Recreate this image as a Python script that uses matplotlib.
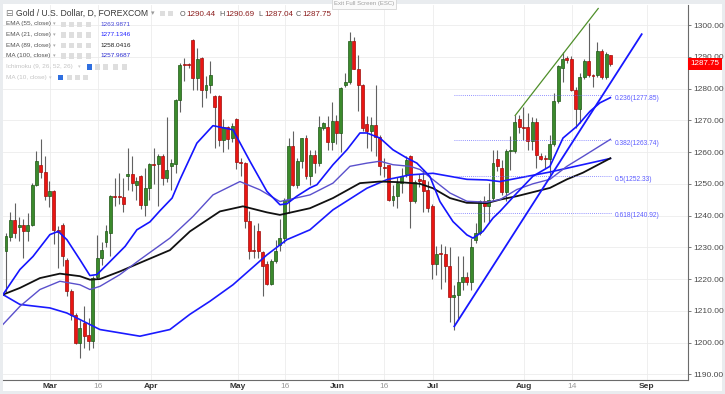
import numpy as np
import matplotlib.pyplot as plt
import matplotlib.transforms as mtransforms
from matplotlib.patches import Rectangle

# Daily gold candles (one entry per trading day)
opens = [1228.7, 1233.2, 1238.7, 1236.4, 1237.1, 1235.0, 1237.1, 1249.7, 1256.0, 1253.6,
         1246.1, 1247.6, 1235.6, 1237.1, 1226.1, 1216.1, 1208.8, 1199.9, 1206.2, 1202.5,
         1200.4, 1220.5, 1226.6, 1231.8, 1234.5, 1246.2, 1246.2, 1245.7, 1252.4, 1253.1,
         1249.5, 1252.3, 1243.4, 1248.6, 1256.3, 1256.1, 1258.8, 1251.8, 1255.5, 1256.1,
         1276.5, 1287.7, 1287.5, 1295.2, 1283.3, 1289.6, 1279.6, 1281.2, 1277.7, 1277.7,
         1263.9, 1267.9, 1264.3, 1270.5, 1257.0, 1256.6, 1238.3, 1229.2, 1235.2, 1228.4,
         1224.7, 1218.4, 1225.7, 1230.8, 1232.9, 1244.5, 1261.8, 1249.7, 1257.1, 1264.4,
         1252.3, 1259.1, 1256.5, 1267.5, 1268.0, 1263.3, 1269.9, 1265.9, 1281.2, 1282.0,
         1295.1, 1286.2, 1281.2, 1268.9, 1266.5, 1268.6, 1264.7, 1255.3, 1256.0, 1245.0,
         1246.0, 1250.2, 1253.0, 1258.7, 1244.5, 1251.4, 1251.2, 1248.1, 1243.0, 1224.7,
         1228.2, 1228.0, 1224.2, 1214.3, 1215.0, 1219.1, 1220.7, 1219.1, 1232.4, 1234.5,
         1244.5, 1242.9, 1245.5, 1257.9, 1255.0, 1247.3, 1260.2, 1260.2, 1270.4, 1267.9,
         1267.8, 1263.4, 1269.4, 1258.7, 1258.0, 1257.9, 1262.4, 1276.0, 1286.6, 1289.5,
         1289.3, 1279.6, 1273.5, 1283.5, 1288.7, 1284.2, 1284.2, 1291.9, 1283.5, 1290.44]
highs = [1234.5, 1241.0, 1243.9, 1239.5, 1239.0, 1240.8, 1250.2, 1260.2, 1264.1, 1258.6,
         1251.0, 1248.0, 1236.6, 1237.5, 1226.6, 1217.0, 1209.3, 1207.2, 1211.4, 1207.7,
         1220.9, 1234.0, 1231.8, 1237.1, 1246.5, 1251.8, 1253.4, 1251.8, 1261.2, 1258.6,
         1252.0, 1252.8, 1254.9, 1256.5, 1261.2, 1259.3, 1259.3, 1271.1, 1257.7, 1276.8,
         1288.0, 1289.6, 1288.0, 1295.6, 1292.7, 1289.8, 1283.8, 1288.6, 1278.0, 1277.9,
         1270.3, 1268.2, 1269.0, 1270.8, 1258.2, 1256.8, 1241.4, 1237.0, 1237.8, 1228.8,
         1225.7, 1226.2, 1232.4, 1238.8, 1245.5, 1264.4, 1266.5, 1258.2, 1264.4, 1265.5,
         1260.7, 1260.7, 1271.2, 1269.6, 1271.5, 1275.6, 1271.7, 1280.6, 1284.9, 1297.7,
         1296.2, 1290.6, 1281.5, 1271.4, 1270.9, 1281.2, 1265.5, 1258.1, 1256.0, 1249.7,
         1252.0, 1255.0, 1258.9, 1259.2, 1251.2, 1253.0, 1254.8, 1250.8, 1243.5, 1230.5,
         1231.0, 1230.5, 1230.1, 1218.2, 1227.4, 1227.4, 1222.2, 1232.8, 1237.6, 1245.0,
         1246.0, 1250.2, 1260.7, 1260.7, 1257.5, 1261.0, 1264.9, 1271.8, 1271.8, 1274.3,
         1272.3, 1271.0, 1270.8, 1259.7, 1259.2, 1265.4, 1278.6, 1287.5, 1291.5, 1290.1,
         1290.3, 1280.4, 1285.0, 1289.4, 1300.66, 1284.5, 1294.5, 1292.3, 1291.4, 1290.69]
lows = [1216.0, 1232.0, 1233.0, 1232.0, 1226.6, 1232.0, 1236.6, 1249.2, 1251.8, 1245.0,
        1242.6, 1231.0, 1223.5, 1224.0, 1214.6, 1207.2, 1199.4, 1195.2, 1198.3, 1197.8,
        1198.3, 1220.0, 1224.5, 1230.2, 1227.2, 1243.0, 1243.5, 1241.0, 1248.0, 1247.6,
        1245.0, 1242.0, 1239.7, 1245.0, 1250.0, 1243.0, 1249.7, 1250.7, 1248.0, 1253.5,
        1272.6, 1282.3, 1286.5, 1279.6, 1279.6, 1274.3, 1277.0, 1278.5, 1261.2, 1262.0,
        1259.9, 1261.0, 1263.0, 1254.5, 1252.3, 1236.2, 1226.3, 1226.5, 1226.5, 1214.8,
        1218.0, 1218.0, 1225.0, 1228.8, 1231.4, 1240.8, 1249.2, 1248.6, 1255.0, 1251.5,
        1249.7, 1253.4, 1255.5, 1267.0, 1260.7, 1260.7, 1262.6, 1260.0, 1280.6, 1281.5,
        1286.0, 1272.8, 1266.5, 1261.2, 1260.4, 1258.6, 1252.8, 1252.0, 1244.6, 1242.9,
        1242.3, 1247.0, 1252.2, 1236.2, 1244.0, 1248.9, 1241.0, 1241.0, 1220.0, 1221.3,
        1217.0, 1219.0, 1206.5, 1204.0, 1207.0, 1216.6, 1218.1, 1216.6, 1231.3, 1234.0,
        1238.1, 1238.0, 1245.0, 1254.0, 1246.5, 1244.5, 1254.2, 1259.7, 1265.9, 1263.8,
        1260.7, 1260.7, 1255.1, 1257.6, 1255.1, 1252.8, 1261.9, 1275.5, 1281.9, 1288.0,
        1279.3, 1267.6, 1269.0, 1282.9, 1283.5, 1280.4, 1283.5, 1283.0, 1283.0, 1287.04]
closes = [1233.4, 1238.7, 1234.4, 1237.1, 1235.0, 1237.1, 1249.7, 1257.1, 1253.6, 1246.1,
          1247.6, 1235.6, 1234.8, 1227.1, 1216.1, 1208.8, 1199.9, 1204.6, 1202.0, 1200.4,
          1220.3, 1226.6, 1229.2, 1235.0, 1246.2, 1245.9, 1245.9, 1243.6, 1253.0, 1250.2,
          1251.0, 1243.4, 1248.6, 1256.1, 1256.0, 1258.8, 1251.8, 1254.4, 1256.7, 1276.5,
          1287.5, 1287.3, 1287.3, 1283.3, 1289.4, 1279.6, 1281.2, 1284.3, 1274.3, 1263.9,
          1267.9, 1264.1, 1268.2, 1256.8, 1256.6, 1238.3, 1228.9, 1228.7, 1228.9, 1224.2,
          1218.4, 1225.7, 1228.9, 1232.9, 1245.0, 1261.8, 1249.7, 1257.1, 1264.4, 1252.3,
          1259.1, 1256.5, 1268.0, 1269.0, 1263.3, 1269.9, 1265.9, 1280.1, 1282.0, 1295.1,
          1286.2, 1281.2, 1267.6, 1266.5, 1268.6, 1264.7, 1255.5, 1255.0, 1245.0, 1246.0,
          1250.2, 1252.5, 1257.6, 1244.5, 1250.7, 1250.9, 1247.6, 1242.4, 1224.7, 1227.8,
          1227.8, 1224.2, 1214.3, 1215.0, 1219.1, 1220.7, 1219.1, 1230.1, 1234.5, 1244.5,
          1242.9, 1245.0, 1256.5, 1255.5, 1247.3, 1260.3, 1260.5, 1269.4, 1267.8, 1267.6,
          1263.4, 1269.4, 1259.2, 1257.9, 1257.8, 1262.4, 1276.0, 1287.0, 1289.3, 1289.1,
          1279.6, 1273.5, 1283.5, 1288.7, 1284.2, 1283.8, 1291.9, 1283.5, 1290.8, 1287.75]

# moving averages, sampled off the chart (bar index, price)
ema21_idx = [-0.7, 3.2, 6.2, 10.1, 12.0, 14.0, 17.0, 19.3, 20.9, 23.2, 27.4, 30.1, 33.1,
             35.4, 38.2, 40.0, 43.9, 47.6, 52.2, 56.1, 60.0, 63.0, 64.6, 66.9, 69.9, 71.5,
             75.2, 78.4, 81.4, 83.0, 86.0, 89.0, 92.2, 94.5, 97.5, 99.8, 102.8, 106.0,
             107.4, 109.7, 112.0, 113.6, 117.5, 121.2, 125.1, 128.1, 131.3, 134.3, 136.6, 139.0]
ema21_val = [1215.1, 1223.0, 1227.1, 1234.0, 1235.0, 1232.4, 1226.1, 1221.1, 1221.4, 1224.5,
             1230.3, 1235.5, 1238.0, 1241.5, 1245.5, 1251.3, 1262.8, 1268.3, 1267.0, 1257.1,
             1247.6, 1243.4, 1243.7, 1246.1, 1248.7, 1249.7, 1256.0, 1260.7, 1266.0, 1266.0,
             1264.4, 1260.7, 1258.1, 1256.5, 1252.3, 1244.4, 1238.1, 1233.9, 1232.9, 1235.0,
             1239.2, 1241.3, 1247.1, 1252.4, 1255.5, 1264.4, 1268.1, 1272.8, 1275.5, 1277.13]
ema55_idx = [-0.7, 3.2, 7.8, 12.4, 17.0, 19.3, 21.6, 26.2, 30.8, 37.7, 43.0, 47.6, 53.8,
             58.4, 63.0, 69.9, 75.2, 79.1, 83.0, 86.0, 89.0, 92.9, 95.2, 98.2, 102.1, 106.0,
             110.6, 113.6, 117.5, 121.2, 125.1, 129.0, 132.7, 139.0]
ema55_val = [1205.7, 1211.4, 1216.7, 1219.3, 1218.2, 1216.7, 1217.7, 1221.4, 1226.1, 1232.9,
             1239.7, 1246.5, 1250.7, 1248.1, 1244.4, 1246.5, 1250.2, 1255.5, 1256.5, 1257.1,
             1256.0, 1255.5, 1254.5, 1251.3, 1247.1, 1244.5, 1244.2, 1245.0, 1248.2, 1250.0,
             1251.4, 1255.5, 1258.6, 1263.99]
ema89_idx = [-0.7, 3.2, 7.8, 12.4, 17.0, 19.3, 21.6, 26.2, 30.8, 37.7, 42.3, 46.9, 49.2,
             54.5, 60.0, 63.0, 69.9, 75.2, 81.4, 86.0, 90.6, 95.2, 98.2, 102.1, 106.0, 110.6,
             113.6, 117.5, 125.1, 129.0, 132.7, 139.0]
ema89_val = [1215.1, 1217.2, 1220.3, 1221.7, 1220.9, 1219.8, 1220.0, 1222.4, 1225.1, 1229.1,
             1235.0, 1239.2, 1241.3, 1242.9, 1241.0, 1240.2, 1242.3, 1245.5, 1250.2, 1250.7,
             1250.5, 1250.0, 1248.6, 1245.5, 1244.0, 1243.9, 1245.0, 1246.1, 1248.7, 1251.4,
             1253.5, 1258.04]
ma100_idx = [-0.7, 3.2, 10.1, 14.0, 21.6, 30.8, 37.7, 42.3, 46.9, 52.2, 60.0, 64.6, 69.9,
             75.2, 83.0, 87.6, 92.9, 98.2, 106.0, 110.6, 113.6, 125.1, 139.0]
ma100_val = [1215.1, 1212.0, 1210.9, 1209.3, 1204.1, 1202.0, 1204.1, 1208.9, 1213.0, 1218.2,
             1227.6, 1232.4, 1235.5, 1241.8, 1248.6, 1251.3, 1252.8, 1253.3, 1251.4, 1251.2,
             1250.7, 1253.7, 1257.97]

# drawings: support trendline, upper channel line, fibonacci levels
trend_idx = [103.1, 146.2]
trend_val = [1205.1, 1297.1]
channel_idx = [117.1, 136.2]
channel_val = [1271.5, 1305.2]
fib_ratios = ['0.236', '0.382', '0.5', '0.618']
fib_levels = [1277.85, 1263.74, 1252.33, 1240.92]
fib_span = [103.1, 139.4]

date_ticks = [10.1, 21.1, 33.3, 53.3, 64.2, 76.3, 86.9, 98.3, 119.2, 130.1, 147.4]
date_labels = ['Mar', '16', 'Apr', 'May', '16', 'Jun', '16', 'Jul', 'Aug', '14', 'Sep']

ind_names = ['EMA (55, close)', 'EMA (21, close)', 'EMA (89, close)', 'MA (100, close)']
ind_values = ['1263.9871', '1277.1346', '1258.0416', '1257.9687']
ind_colors = ['#4646d8', '#1f1fff', '#222222', '#2b2bd0']

plt.rcParams['font.family'] = ['Liberation Sans', 'DejaVu Sans']

W, H = 725, 394
fig = plt.figure(figsize=(W / 100, H / 100), dpi=100, facecolor='#e9ecef')


def fx(px):
    return px / W


def fy(py):
    return 1 - py / H


fig.add_artist(Rectangle((fx(3), fy(391)), fx(719), 387 / H, transform=fig.transFigure,
                         facecolor='white', edgecolor='none', zorder=0))

ax = fig.add_axes([fx(3), fy(379.7), fx(688) - fx(3), (379.7 - 5) / H])
ax.set_facecolor('white')
ax.set_xlim(-0.69, 156.85)
ax.set_ylim(1188.3, 1306.3)

o = np.array(opens)
hi = np.array(highs)
lo = np.array(lows)
c = np.array(closes)
x = np.arange(len(o))
up = c >= o
body_low = np.minimum(o, c)
body_h = np.maximum(np.abs(c - o), 0.3)

ax.vlines(x, lo, hi, color='#616161', lw=0.8, zorder=2)
ax.bar(x[up], body_h[up], bottom=body_low[up], width=0.68, color='#3b8a2c',
       edgecolor='#1d5714', lw=0.5, zorder=3)
ax.bar(x[~up], body_h[~up], bottom=body_low[~up], width=0.68, color='#ea1512',
       edgecolor='#a00d0b', lw=0.5, zorder=3)

# indicators
ax.plot(ma100_idx, ma100_val, color='#1a1aff', lw=1.2, zorder=4)
ax.plot(ema89_idx, ema89_val, color='#111111', lw=1.3, zorder=4)
ax.plot(ema55_idx, ema55_val, color='#5a50cc', lw=1.0, zorder=4)
ax.plot(ema21_idx, ema21_val, color='#1414ff', lw=1.2, zorder=5)

# drawings
ax.plot(trend_idx, trend_val, color='#1717ff', lw=1.3, zorder=5)
ax.plot(channel_idx, channel_val, color='#4f8f2a', lw=0.9, zorder=5)
for r, lvl in zip(fib_ratios, fib_levels):
    ax.plot(fib_span, [lvl, lvl], color='#6f6fff', lw=0.6, ls=(0, (1, 1.5)), zorder=4)
    ax.text(fib_span[1] + 0.5, lvl - 1.0, f'{r}({lvl:.2f})', color='#5c5cff',
            fontsize=4.8, va='center', ha='left', zorder=6)

# axes styling
ax.set_axisbelow(True)
ax.grid(True, color='#ececec', lw=0.6)
ax.yaxis.tick_right()
ax.set_yticks(np.arange(1190, 1301, 10))
ax.set_yticklabels([f'{v:.2f}' for v in np.arange(1190, 1301, 10)])
ax.tick_params(axis='y', length=2.2, width=0.6, color='#666666', labelsize=6,
               labelcolor='#4a4a4a', pad=1.5)
ax.set_xticks(date_ticks)
ax.set_xticklabels(date_labels)
ax.tick_params(axis='x', length=0, pad=2.2, labelsize=6)
for lab in ax.get_xticklabels():
    if lab.get_text().isdigit():
        lab.set_color('#9a9a9a')
    else:
        lab.set_color('#333333')
        lab.set_fontweight('bold')
for side in ['top', 'left']:
    ax.spines[side].set_visible(False)
for side in ['right', 'bottom']:
    ax.spines[side].set_color('#6b6b6b')
    ax.spines[side].set_linewidth(0.8)

# last price tag
blend = mtransforms.blended_transform_factory(ax.transAxes, ax.transData)
ax.text(1.004, c[-1], f'{c[-1]:.2f}', transform=blend, color='white', fontsize=5.8,
        va='center', ha='left', clip_on=False, zorder=7,
        bbox=dict(boxstyle='square,pad=0.32', fc='#ff0000', ec='none'))

# header / legend texts
fig.text(fx(5), fy(13.5), '⊟', fontsize=6.5, color='#7a7a7a', va='center')
fig.text(fx(16), fy(13.5), 'Gold / U.S. Dollar, D, FOREXCOM', fontsize=6.2,
         color='#3a3a3a', va='center')
fig.text(fx(151), fy(13.5), '▾', fontsize=5, color='#999999', va='center')


def icon_row(xs, y, first_blue=False):
    for k, xi in enumerate(xs):
        fc = '#2f6fe0' if (first_blue and k == 0) else '#dedede'
        fig.add_artist(Rectangle((fx(xi), fy(y + 2.8)), 5.2 / W, 5.2 / H,
                                 transform=fig.transFigure, facecolor=fc,
                                 edgecolor='none', zorder=8))


icon_row([160, 168], 13.5)

ohlc = [('O', '1290.44', 180), ('H', '1290.69', 219.5), ('L', '1287.04', 258.5),
        ('C', '1287.75', 296)]
for letter, val, px in ohlc:
    fig.text(fx(px), fy(14), letter, fontsize=5.2, color='#555555', va='center')
    fig.text(fx(px + 6), fy(14), val, fontsize=5.8, color='#8b1c1c', va='center')

row_y = [24, 34.7, 45.3, 55.7]
for name, val, col, y in zip(ind_names, ind_values, ind_colors, row_y):
    fig.text(fx(6), fy(y), name, fontsize=4.6, color='#555555', va='center')
    fig.text(fx(53), fy(y), '▾', fontsize=3.8, color='#aaaaaa', va='center')
    icon_row([61, 69, 77, 85.5], y)
    fig.text(fx(100), fy(y), val, fontsize=4.6, color=col, va='center')

fig.text(fx(6), fy(66.7), 'Ichimoku (9, 26, 52, 26)', fontsize=4.6, color='#c4c4c4',
         va='center')
fig.text(fx(78), fy(66.7), '▾', fontsize=3.8, color='#cccccc', va='center')
icon_row([86.5, 95, 103, 113, 122], 66.7, first_blue=True)
fig.text(fx(6), fy(77.3), 'MA (10, close)', fontsize=4.6, color='#c4c4c4', va='center')
fig.text(fx(49), fy(77.3), '▾', fontsize=3.8, color='#cccccc', va='center')
icon_row([58, 66.5, 75, 83], 77.3, first_blue=True)

fig.text(fx(364), fy(4), 'Exit Full Screen (ESC)', fontsize=4.3, color='#a0a0a0',
         ha='center', va='center',
         bbox=dict(boxstyle='square,pad=0.35', fc='#fafafa', ec='#d4d4d4', lw=0.6))

fig.savefig('out.png', dpi=100, facecolor=fig.get_facecolor())
